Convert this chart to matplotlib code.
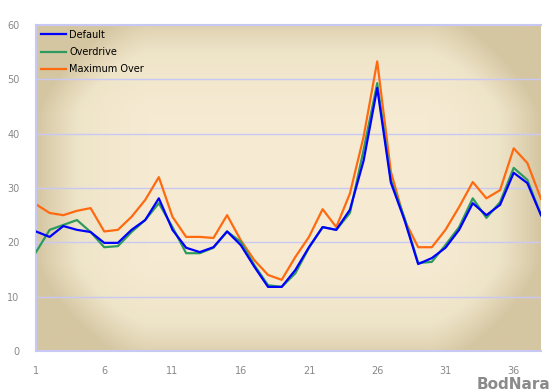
import matplotlib
matplotlib.use('Agg')
import matplotlib.pyplot as plt
import numpy as np
from matplotlib.colors import LinearSegmentedColormap

# data
x = list(range(1, 39))
default = [22, 21, 23, 22.3, 21.9, 19.9, 19.9, 22.3, 24.1, 28.1,
           22.3, 19, 18.2, 19.1, 22, 19.5, 15.5, 11.8, 11.8, 14.9,
           19.1, 22.8, 22.3, 26, 35, 48.4, 31, 24.1, 16, 17.1,
           19, 22.3, 27.2, 25, 26.9, 32.8, 30.9, 25]
overdrive = [18.2, 22.3, 23.2, 24.1, 21.9, 19.1, 19.3, 21.9, 24.1, 27.2,
             22.8, 18, 18, 19, 22, 20.1, 15.8, 12.1, 11.8, 14.3,
             19, 22.8, 22.3, 25.4, 37, 49.3, 31.5, 24.5, 16.2, 16.4,
             19.5, 22.8, 28.1, 24.5, 27.4, 33.7, 31.5, 25]
maxover = [27, 25.4, 25, 25.8, 26.3, 22, 22.3, 24.7, 27.8, 32,
           24.7, 21, 21, 20.8, 25, 20.4, 16.7, 14, 13.1, 17.3,
           21, 26.1, 22.8, 29, 39.4, 53.3, 33, 24.1, 19.1, 19.1,
           22.3, 26.5, 31.1, 28.1, 29.6, 37.3, 34.6, 28]
xticks = [1, 6, 11, 16, 21, 26, 31, 36]
yticks = [0, 10, 20, 30, 40, 50, 60]

fig = plt.figure(figsize=(5.51, 3.92), dpi=100)
ax = fig.add_axes([36/551, 41/392, 505/551, 326/392])

# beige background: light middle, darker side strips and top/bottom bands
gx, gy = np.meshgrid(np.linspace(-1, 1, 400), np.linspace(-1, 1, 300))
side = np.clip((np.abs(gx) - 0.55) / 0.45, 0, 1) ** 1.5
band = np.clip((np.abs(gy) - 0.45) / 0.55, 0, 1) ** 1.3
shade = np.clip(side + 0.8 * band, 0, 1)
bg = LinearSegmentedColormap.from_list('bg', ['#f6ebd2', '#eee4c8', '#d5c6a2'])
ax.imshow(shade, cmap=bg, extent=[1, 38, 0, 60], aspect='auto',
          origin='lower', zorder=0, interpolation='bilinear')

for yv in yticks[1:-1]:
    ax.axhline(yv, color='#c8c8f4', lw=1, zorder=1)

ax.plot(x, default, color='#0000ff', lw=1.6, label='Default', zorder=4)
ax.plot(x, overdrive, color='#2e9a5e', lw=1.6, label='Overdrive', zorder=3)
ax.plot(x, maxover, color='#ff6a10', lw=1.6, label='Maximum Over', zorder=2)

ax.set_xlim(1, 38)
ax.set_ylim(0, 60)
ax.set_xticks(xticks)
ax.set_yticks(yticks)
ax.tick_params(length=0, colors='#888888', labelsize=7, pad=11)
ax.tick_params(axis='y', pad=12)
for s in ['top', 'left', 'bottom']:
    ax.spines[s].set_color('#c8c8f4')
    ax.spines[s].set_linewidth(1.5)
ax.spines['right'].set_visible(False)

leg = ax.legend(loc='upper left', frameon=False, fontsize=7, handlelength=2.6,
                handletextpad=0.3, labelspacing=0.75, borderaxespad=0.3,
                borderpad=0.2)

fig.text(0.998, 0.0, 'BodNara', ha='right', va='bottom', color='#8a8a8a',
         fontsize=11, fontweight='bold')

fig.savefig('out.png', dpi=100)
